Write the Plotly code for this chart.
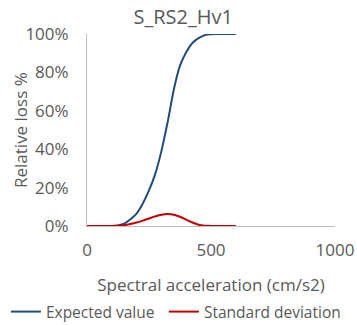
import plotly.graph_objects as go

x_values = [0, 25, 50, 75, 100, 125, 150, 175, 200, 225, 250, 275, 300, 325, 350,
            375, 400, 425, 450, 475, 500, 525, 550, 575, 600]
expected_value = [0.0, 0.0, 0.0, 0.0, 0.0, 0.3, 1.2, 3.5, 6.5, 11.7, 18.5, 27.0, 39.0,
                  54.0, 71.0, 83.5, 90.5, 95.3, 97.8, 99.4, 99.9, 100.0, 100.0, 100.0, 100.0]
standard_deviation = [0.0, 0.0, 0.0, 0.0, 0.0, 0.1, 0.4, 1.0, 1.8, 2.8, 3.9, 5.0, 5.9,
                      6.3, 5.9, 4.8, 3.3, 1.8, 0.7, 0.2, 0.05, 0.0, 0.0, 0.0, 0.0]

x_ticks = [0, 500, 1000]
y_ticks = [0, 20, 40, 60, 80, 100]

FONT = "Open Sans"
GRAY = "#595959"

fig = go.Figure()
fig.add_trace(go.Scatter(x=x_values, y=[v / 100 for v in expected_value], mode="lines",
                         name="Expected value", legendwidth=113,
                         line=dict(color="#1F4E79", width=2, shape="spline")))
fig.add_trace(go.Scatter(x=x_values, y=[v / 100 for v in standard_deviation], mode="lines",
                         name="Standard deviation",
                         line=dict(color="#C00000", width=2, shape="spline")))

fig.update_layout(
    width=357, height=325,
    margin=dict(l=87, r=22, t=34, b=99, autoexpand=False),
    paper_bgcolor="white", plot_bgcolor="white",
    font=dict(family=FONT, color=GRAY, size=16),
    title=dict(text="S_RS2_Hv1", x=0.513, xanchor="center", y=0.948, yanchor="middle",
               font=dict(family=FONT, size=20, color=GRAY)),
    showlegend=True,
    legend=dict(orientation="h", xref="paper", yref="paper",
                x=-0.327, xanchor="left", y=-0.448, yanchor="middle",
                font=dict(family=FONT, size=15.5, color=GRAY), itemwidth=30,
                tracegroupgap=0, borderwidth=0, bgcolor="rgba(0,0,0,0)"),
    xaxis=dict(range=[0, 1000], tickvals=x_ticks, showgrid=False, zeroline=False,
               showline=True, linecolor="#BFBFBF", linewidth=1, ticks="",
               automargin=False, ticklabelstandoff=9,
               tickfont=dict(size=17, color=GRAY),
               title=dict(text="Spectral acceleration (cm/s2)", standoff=18,
                          font=dict(size=17, color=GRAY))),
    yaxis=dict(range=[0, 1.0], tickvals=[t / 100 for t in y_ticks], tickformat=".0%",
               showgrid=False, zeroline=False, showline=True, linecolor="#BFBFBF",
               linewidth=1, ticks="", ticklabelstandoff=14, automargin=False,
               tickfont=dict(size=17, color=GRAY)),
    annotations=[dict(text="Relative loss %", textangle=-90, xref="paper", yref="paper",
                      x=(20 - 87) / 248, y=0.5, xanchor="center", yanchor="middle",
                      showarrow=False, font=dict(family=FONT, size=17, color=GRAY))],
)

fig.write_html("out.html", config={"displayModeBar": False},
               post_script="document.body.style.margin='0';document.body.style.padding='0';")
